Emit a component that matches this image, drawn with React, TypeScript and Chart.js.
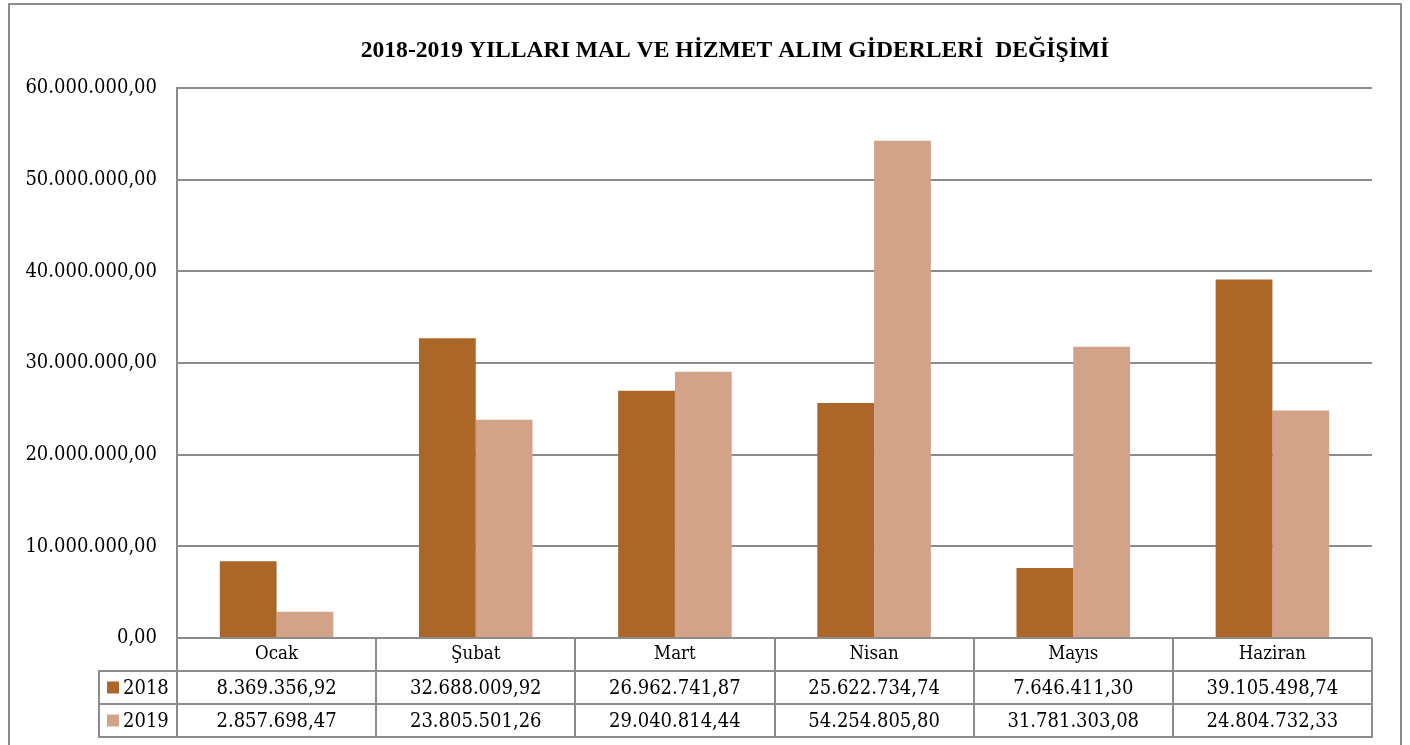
import React, { useEffect, useRef } from "react";
import { Chart, registerables } from "chart.js";

Chart.register(...registerables);

const titleText = "2018-2019 YILLARI MAL VE HİZMET ALIM GİDERLERİ  DEĞİŞİMİ";
const categories = ["Ocak", "Şubat", "Mart", "Nisan", "Mayıs", "Haziran"];
const seriesNames = ["2018", "2019"];
const values2018 = [8369356.92, 32688009.92, 26962741.87, 25622734.74, 7646411.3, 39105498.74];
const values2019 = [2857698.47, 23805501.26, 29040814.44, 54254805.8, 31781303.08, 24804732.33];
const yMin = 0;
const yMax = 60000000;
const yStep = 10000000;
const seriesColors = ["#AB6628", "#D2A388"];

const TITLE_FONT = "'Liberation Serif', 'Times New Roman', serif";
const FONT = "'DejaVu Serif Condensed', 'Liberation Serif', serif";
const LINE = "#8c8c8c";

function fmt(v: number): string {
  const fixed = Math.abs(v).toFixed(2);
  const [intPart, frac] = fixed.split(".");
  const withDots = intPart.replace(/\B(?=(\d{3})+(?!\d))/g, ".");
  return (v < 0 ? "-" : "") + withDots + "," + frac;
}

const titlePlugin = {
  id: "customTitle",
  afterDraw(chart: any) {
    const { ctx } = chart;
    ctx.save();
    ctx.fillStyle = "#000";
    ctx.font = `bold 23.6px ${TITLE_FONT}`;
    ctx.textAlign = "center";
    ctx.textBaseline = "middle";
    ctx.fillText(titleText, 735, 51);
    ctx.restore();
  },
};

const tablePlugin = {
  id: "dataTable",
  afterDraw(chart: any) {
    const { ctx, chartArea } = chart;
    const x = chart.scales.x;
    const n = categories.length;
    const catW = (chartArea.right - chartArea.left) / n;
    const top = chartArea.bottom;
    const rowH = x.height / 3;
    const legendW = 78;
    const tableLeft = chartArea.left - legendW;
    const right = chartArea.right;
    const bottom = top + rowH * 3;
    const rowsData = [values2018, values2019];

    ctx.save();
    ctx.strokeStyle = LINE;
    ctx.lineWidth = 2;
    ctx.beginPath();
    for (let r = 1; r <= 3; r++) {
      const yy = Math.round(top + rowH * r);
      ctx.moveTo(tableLeft, yy);
      ctx.lineTo(right, yy);
    }
    for (let i = 0; i <= n; i++) {
      const xx = Math.round(chartArea.left + catW * i);
      ctx.moveTo(xx, top);
      ctx.lineTo(xx, bottom + 1);
    }
    ctx.moveTo(tableLeft, Math.round(top + rowH) - 1);
    ctx.lineTo(tableLeft, bottom + 1);
    ctx.stroke();

    ctx.fillStyle = "#000";
    ctx.font = `20px ${FONT}`;
    ctx.textAlign = "center";
    ctx.textBaseline = "middle";
    rowsData.forEach((vals, r) => {
      const cy = top + rowH * (r + 1) + rowH / 2;
      vals.forEach((v, i) => {
        const cx = chartArea.left + catW * (i + 0.5);
        ctx.fillText(fmt(v), cx, cy + 1);
      });
      ctx.fillStyle = seriesColors[r];
      ctx.fillRect(tableLeft + 8, cy - 6, 12, 12);
      ctx.fillStyle = "#000";
      ctx.textAlign = "left";
      ctx.fillText(seriesNames[r], tableLeft + 24, cy + 1);
      ctx.textAlign = "center";
    });
    ctx.restore();
  },
};

export default function App() {
  const canvasRef = useRef<HTMLCanvasElement | null>(null);

  useEffect(() => {
    if (!canvasRef.current) return;
    const chart = new Chart(canvasRef.current, {
      type: "bar",
      data: {
        labels: categories,
        datasets: [
          {
            label: seriesNames[0],
            data: values2018,
            backgroundColor: seriesColors[0],
            borderWidth: 0,
          },
          {
            label: seriesNames[1],
            data: values2019,
            backgroundColor: seriesColors[1],
            borderWidth: 0,
          },
        ],
      },
      options: {
        animation: false,
        responsive: true,
        maintainAspectRatio: false,
        layout: { padding: { left: 10, right: 38, top: 88, bottom: 8 } },
        datasets: { bar: { barPercentage: 1, categoryPercentage: 0.57 } },
        plugins: {
          legend: { display: false },
          tooltip: { enabled: false },
          title: { display: false, text: titleText },
        },
        scales: {
          x: {
            grid: { display: false, drawTicks: false },
            border: { display: false },
            ticks: { color: "#000", font: { family: FONT, size: 18.5 }, padding: 5, maxRotation: 0 },
            afterFit: (s: any) => {
              s.height = 99;
            },
          },
          y: {
            min: yMin,
            max: yMax,
            ticks: {
              stepSize: yStep,
              color: "#000",
              font: { family: FONT, size: 20 },
              padding: 20,
              callback: (v: any) => fmt(Number(v)),
            },
            grid: { color: LINE, lineWidth: 2, drawTicks: false },
            border: { display: true, color: LINE, width: 2 },
            afterFit: (s: any) => {
              s.width = 167;
            },
          },
        },
      },
      plugins: [tablePlugin, titlePlugin],
    });
    return () => chart.destroy();
  }, []);

  return (
    <div style={{ position: "fixed", left: 0, top: 0, width: 1410, height: 745, background: "#fff" }}>
      <div
        style={{
          position: "absolute",
          left: 8,
          top: 3,
          width: 1394,
          height: 800,
          border: `2px solid ${LINE}`,
          boxSizing: "border-box",
        }}
      />
      <div style={{ position: "absolute", left: 0, top: 0, width: 1410, height: 745 }}>
        <canvas ref={canvasRef} />
      </div>
    </div>
  );
}
